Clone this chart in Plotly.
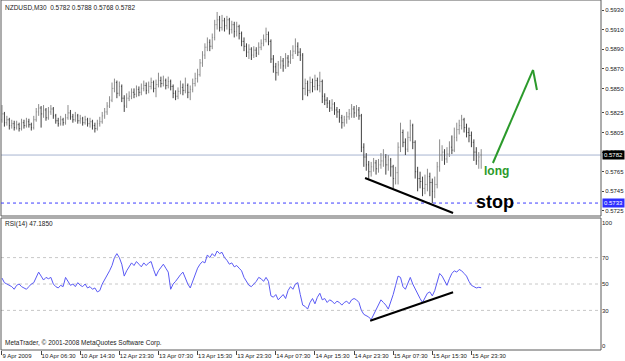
import plotly.graph_objects as go

# ---------------- data (prices in pips: value/10000) ----------------
open_pips = [
5818,5824,5815,5818,5812,5814,5810,5813,5809,5815,
5812,5816,5813,5810,5818,5826,5830,5824,5828,5820,
5826,5829,5822,5817,5814,5818,5815,5820,5825,5821,
5818,5822,5817,5819,5815,5818,5814,5816,5812,5809,
5814,5816,5822,5826,5832,5838,5850,5856,5845,5852,
5840,5832,5840,5842,5846,5844,5849,5846,5850,5853,
5848,5852,5856,5850,5854,5858,5855,5858,5853,5857,
5852,5845,5842,5847,5851,5848,5853,5846,5849,5855,
5860,5864,5876,5884,5892,5897,5893,5902,5915,5920,
5912,5919,5914,5920,5910,5915,5908,5913,5906,5898,
5893,5887,5890,5884,5889,5886,5892,5896,5900,5905,
5898,5880,5872,5866,5874,5878,5873,5881,5877,5884,
5888,5893,5887,5884,5850,5855,5848,5856,5852,5858,
5853,5857,5842,5838,5835,5830,5834,5828,5826,5820,
5815,5818,5821,5824,5829,5825,5828,5822,5790,5780,
5772,5765,5770,5774,5768,5772,5776,5780,5772,5777,
5770,5758,5764,5790,5805,5795,5788,5800,5812,5795,
5765,5758,5755,5748,5752,5760,5754,5745,5752,5770,
5782,5785,5778,5783,5790,5787,5800,5808,5812,5818,
5810,5805,5802,5795,5785,5776,5782]
high_pips = [
5833,5826,5822,5820,5818,5817,5817,5815,5819,5818,
5820,5819,5815,5822,5830,5834,5832,5833,5830,5831,
5833,5831,5824,5820,5822,5820,5824,5833,5828,5824,
5826,5824,5823,5821,5822,5820,5820,5818,5815,5818,
5821,5826,5830,5836,5842,5856,5860,5858,5857,5854,
5843,5845,5847,5850,5850,5853,5852,5855,5858,5856,
5857,5861,5858,5859,5866,5862,5863,5860,5862,5859,
5854,5848,5851,5858,5855,5861,5855,5853,5860,5866,
5870,5880,5888,5896,5902,5900,5906,5920,5928,5924,
5925,5922,5924,5922,5919,5918,5918,5915,5908,5902,
5896,5895,5892,5893,5892,5897,5900,5905,5912,5908,
5900,5884,5876,5878,5883,5881,5886,5884,5889,5894,
5901,5897,5891,5886,5860,5858,5862,5860,5864,5861,
5867,5859,5845,5841,5838,5839,5836,5831,5829,5823,
5822,5826,5829,5834,5832,5833,5831,5824,5794,5784,
5776,5775,5779,5777,5778,5784,5788,5783,5782,5779,
5772,5770,5795,5815,5808,5799,5806,5818,5814,5797,
5770,5765,5760,5762,5768,5764,5758,5760,5775,5798,
5792,5788,5790,5796,5802,5810,5815,5818,5823,5820,
5814,5810,5806,5798,5790,5785,5788]
low_pips = [
5815,5811,5812,5808,5809,5807,5808,5806,5807,5809,
5810,5810,5807,5808,5816,5822,5810,5820,5817,5818,
5823,5819,5814,5811,5812,5812,5813,5818,5818,5815,
5816,5814,5814,5812,5813,5811,5810,5808,5805,5807,
5811,5814,5819,5823,5830,5836,5846,5840,5842,5836,
5826,5830,5837,5839,5840,5841,5842,5843,5847,5844,
5845,5849,5846,5841,5851,5851,5852,5849,5850,5848,
5840,5838,5839,5844,5843,5845,5840,5838,5846,5852,
5856,5862,5872,5880,5888,5888,5890,5899,5910,5908,
5909,5908,5910,5905,5906,5902,5903,5900,5893,5888,
5882,5880,5879,5881,5882,5884,5889,5893,5897,5894,
5876,5866,5858,5863,5870,5867,5870,5872,5875,5880,
5885,5883,5878,5838,5843,5842,5845,5846,5848,5848,
5846,5835,5833,5830,5826,5827,5823,5820,5815,5809,
5811,5814,5818,5820,5820,5821,5818,5785,5770,5766,
5758,5760,5765,5762,5764,5768,5770,5762,5766,5760,
5748,5752,5752,5785,5790,5782,5785,5796,5788,5758,
5745,5748,5740,5742,5745,5740,5733,5738,5748,5765,
5776,5772,5774,5780,5783,5785,5796,5803,5808,5805,
5800,5795,5790,5776,5772,5768,5768]
close_pips = [
5824,5815,5818,5812,5814,5810,5813,5809,5815,5812,
5816,5813,5810,5818,5826,5830,5824,5828,5820,5826,
5829,5822,5817,5814,5818,5815,5820,5825,5821,5818,
5822,5817,5819,5815,5818,5814,5816,5812,5809,5814,
5816,5822,5826,5832,5838,5850,5856,5845,5852,5840,
5832,5840,5842,5846,5844,5849,5846,5850,5853,5848,
5852,5856,5850,5854,5858,5855,5858,5853,5857,5852,
5845,5842,5847,5851,5848,5853,5846,5849,5855,5860,
5864,5876,5884,5892,5897,5893,5902,5915,5920,5912,
5919,5914,5920,5910,5915,5908,5913,5906,5898,5893,
5887,5890,5884,5889,5886,5892,5896,5900,5905,5898,
5880,5872,5866,5874,5878,5873,5881,5877,5884,5888,
5893,5887,5884,5850,5855,5848,5856,5852,5858,5853,
5857,5842,5838,5835,5830,5834,5828,5826,5820,5815,
5818,5821,5824,5829,5825,5828,5822,5790,5780,5772,
5765,5770,5774,5768,5772,5776,5780,5772,5777,5770,
5758,5764,5790,5805,5795,5788,5800,5812,5795,5765,
5758,5755,5748,5752,5760,5754,5745,5752,5770,5782,
5785,5778,5783,5790,5787,5800,5808,5812,5818,5810,
5805,5802,5795,5785,5776,5780,5782]
rsi_values = [
54.5,51,50,49,48,46,49,50,48,47,
46,48,50,51,55,59,56,53,55,54,
55,50,48,47,49,48,55,52,49,50,
48,51,49,48,50,47,48,46,47,44,
45,50,53,56,60,64,70,73,70,65,
56,60,63,66,64,67,65,63,66,64,
66,67,61,56,60,63,65,62,59,46,
50,52,55,57,59,54,50,47,52,58,
62,65,67,66,72,70,73,71,75,73,
74,70,68,65,66,63,64,62,60,55,
52,49,48,50,52,55,54,52,55,52,
41,40,42,38,40,42,39,45,48,46,
50,51,42,34,33,31,36,39,35,40,
43,38,39,36,38,37,35,37,36,34,
36,37,35,38,39,38,36,30,27,26,
25,23,27,30,35,38,36,34,31,36,
42,49,56,55,48,46,51,55,50,46,
42,39,36,40,43,44,41,45,52,58,
56,52,49,54,58,60,59,61,60,58,
56,52,49,48,47,47.5,47.185]

tick_bars = [0, 16, 32, 48, 64, 80, 96, 112, 128, 144, 160, 176, 192]
tick_labels = ["9 Apr 2009", "10 Apr 06:30", "10 Apr 14:30", "12 Apr 23:30", "13 Apr 07:30",
               "13 Apr 15:30", "13 Apr 23:30", "14 Apr 07:30", "14 Apr 15:30", "14 Apr 23:30",
               "15 Apr 07:30", "15 Apr 15:30", "15 Apr 23:30"]
price_ticks = [0.5930, 0.5910, 0.5890, 0.5870, 0.5850, 0.5825, 0.5805, 0.5785, 0.5765, 0.5745, 0.5725]
rsi_ticks = [3, 30, 50, 70, 96.5]
rsi_tick_text = ["0", "30", "50", "70", "100"]
rsi_levels = [30, 50, 70]

bid_price = 0.5782
stop_price = 0.5733
price_trend_x = [148.5, 184.5]
price_trend_y = [0.57586, 0.57229]
rsi_trend_x = [150.6, 184.5]
rsi_trend_y = [22.2, 43.7]
arrow_x = [200.8, 217.2, 218.8]
arrow_y = [0.57739, 0.58688, 0.58484]

# ---------------- figure ----------------
bars = list(range(len(close_pips)))
o = [v / 10000 for v in open_pips]
h = [v / 10000 for v in high_pips]
l = [v / 10000 for v in low_pips]
c = [v / 10000 for v in close_pips]

W, H = 625, 361
PH = 350.0
main_dom = [1 - 216 / PH, 1]
rsi_dom = [0, 1 - 218 / PH]

fig = go.Figure()
fig.add_trace(go.Ohlc(
    x=bars, open=o, high=h, low=l, close=c, xaxis="x", yaxis="y",
    increasing=dict(line=dict(color="#8c8c8c", width=1)),
    decreasing=dict(line=dict(color="#404040", width=1)),
    tickwidth=0.3, hoverinfo="skip", showlegend=False))
fig.add_trace(go.Scatter(
    x=list(range(len(rsi_values))), y=rsi_values, xaxis="x", yaxis="y2", mode="lines",
    line=dict(color="#5a5af5", width=1), hoverinfo="skip", showlegend=False))

shapes = []
for dom in (main_dom, rsi_dom):
    shapes.append(dict(type="rect", xref="paper", yref="paper", x0=0, x1=1, y0=dom[0], y1=dom[1],
                       line=dict(color="#5a5a5a", width=1), layer="above"))
shapes.append(dict(type="line", xref="paper", yref="y", x0=0, x1=1, y0=bid_price, y1=bid_price,
                   line=dict(color="#a8b4d0", width=1), layer="below"))
shapes.append(dict(type="line", xref="paper", yref="y", x0=0, x1=1, y0=stop_price, y1=stop_price,
                   line=dict(color="#3c3cff", width=1, dash="dot")))
for lv in rsi_levels:
    shapes.append(dict(type="line", xref="paper", yref="y2", x0=0, x1=1, y0=lv, y1=lv,
                       line=dict(color="#c8c8c8", width=1, dash="dot"), layer="below"))
shapes.append(dict(type="line", xref="x", yref="y", x0=price_trend_x[0], x1=price_trend_x[1],
                   y0=price_trend_y[0], y1=price_trend_y[1], line=dict(color="black", width=2)))
shapes.append(dict(type="line", xref="x", yref="y2", x0=rsi_trend_x[0], x1=rsi_trend_x[1],
                   y0=rsi_trend_y[0], y1=rsi_trend_y[1], line=dict(color="black", width=2)))
for k in range(len(arrow_x) - 1):
    shapes.append(dict(type="line", xref="x", yref="y", x0=arrow_x[k], x1=arrow_x[k + 1],
                       y0=arrow_y[k], y1=arrow_y[k + 1], line=dict(color="#2b9a2b", width=2)))

def px(xp):
    return (xp - 1) / 600.0

def py(yp):
    return 1 - yp / PH

small = dict(family="Liberation Sans, Arial", size=6.5, color="#222222")
annotations = [
    dict(text="NZDUSD,M30  0.5782 0.5788 0.5768 0.5782", x=px(3), y=py(7), xref="paper", yref="paper",
         xanchor="left", yanchor="middle", showarrow=False, font=small),
    dict(text="RSI(14) 47.1850", x=px(3), y=py(224), xref="paper", yref="paper",
         xanchor="left", yanchor="middle", showarrow=False, font=small),
    dict(text="MetaTrader, © 2001-2008 MetaQuotes Software Corp.", x=px(3), y=py(343), xref="paper",
         yref="paper", xanchor="left", yanchor="middle", showarrow=False, font=small),
    dict(text="<b>long</b>", x=202.1, y=0.57657, xref="x", yref="y", xanchor="center", yanchor="middle",
         showarrow=False, font=dict(family="Liberation Sans, Arial", size=12, color="#2b9a2b")),
    dict(text="<b>stop</b>", x=201.6, y=0.57343, xref="x", yref="y", xanchor="center", yanchor="middle",
         showarrow=False, font=dict(family="Liberation Sans, Arial", size=18, color="black")),
    dict(text=f"{bid_price:.4f}", x=1.0, y=bid_price, xref="paper", yref="y", xanchor="left",
         yanchor="middle", showarrow=False, bgcolor="black", borderpad=1,
         font=dict(family="Liberation Sans, Arial", size=6, color="white"), xshift=1),
    dict(text=f"{stop_price:.4f}", x=1.0, y=stop_price, xref="paper", yref="y", xanchor="left",
         yanchor="middle", showarrow=False, bgcolor="#2f2fff", borderpad=1,
         font=dict(family="Liberation Sans, Arial", size=6, color="white"), xshift=1),
]

axis_font = dict(family="Liberation Sans, Arial", size=6, color="#222222")
fig.update_layout(
    width=W, height=H,
    margin=dict(l=1, r=24, t=0, b=11, pad=0),
    paper_bgcolor="white", plot_bgcolor="white",
    showlegend=False,
    xaxis=dict(domain=[0, 1], anchor="y2", range=[-0.4, 245], tickmode="array",
               tickvals=tick_bars, ticktext=tick_labels, ticks="outside", ticklen=4,
               tickcolor="#444", ticklabelposition="outside right", tickangle=0,
               tickfont=axis_font, automargin=False,
               showgrid=False, zeroline=False, showline=False, rangeslider=dict(visible=False),
               fixedrange=True),
    yaxis=dict(domain=main_dom, anchor="x", side="right", range=[0.57198, 0.59402],
               tickmode="array", tickvals=price_ticks, ticktext=[f"{v:.4f}" for v in price_ticks],
               ticks="outside", ticklen=2, tickcolor="#444", tickfont=axis_font, automargin=False,
               showgrid=False, zeroline=False, showline=False),
    yaxis2=dict(domain=rsi_dom, anchor="x", side="right", range=[0, 100], tickmode="array",
                tickvals=rsi_ticks, ticktext=rsi_tick_text, ticks="", tickfont=axis_font,
                automargin=False, showgrid=False, zeroline=False, showline=False),
    shapes=shapes, annotations=annotations,
)

fig.write_html("out.html", config={"displayModeBar": False})
